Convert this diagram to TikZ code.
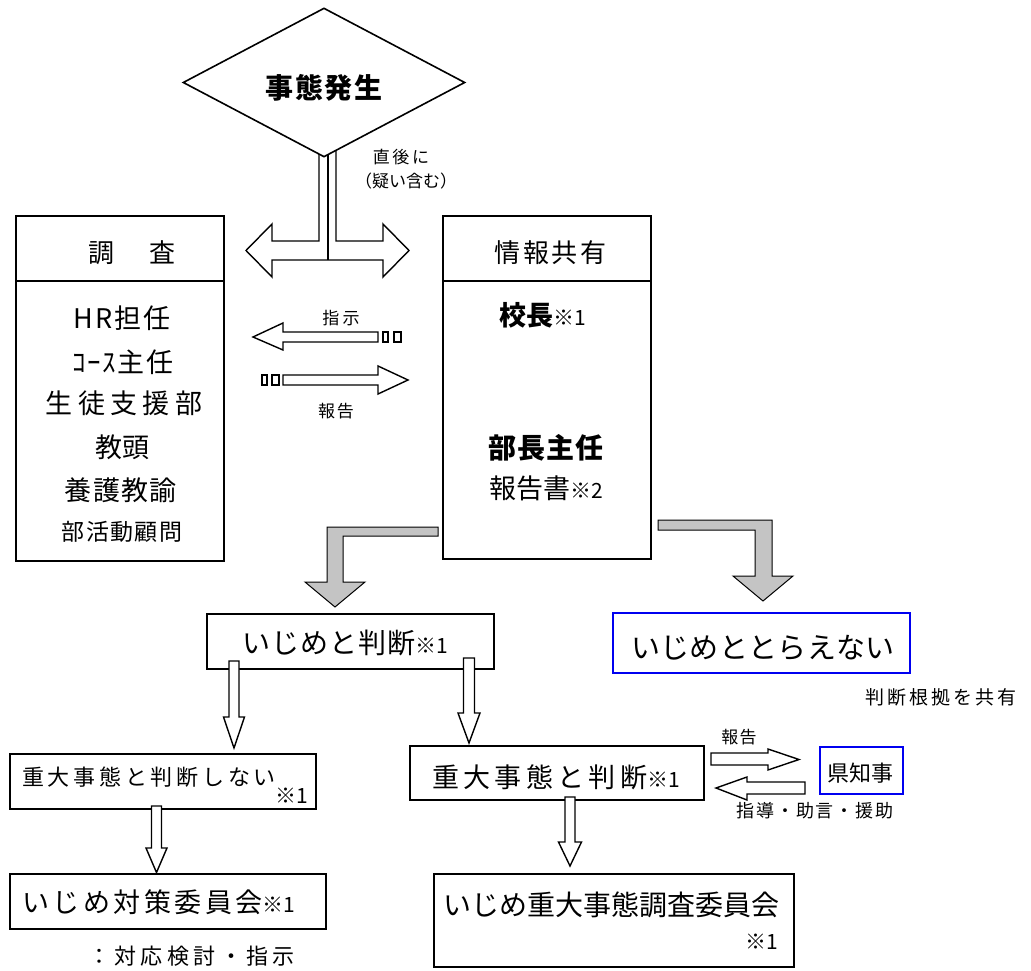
\documentclass[tikz,border=0pt]{standalone}
\usepackage{fontspec}
\setmainfont{Noto Sans CJK JP}
\usetikzlibrary{shapes.geometric}
\definecolor{arrowgray}{RGB}{196,196,196}
\definecolor{boxblue}{RGB}{0,0,240}
\newcommand\fs[1]{\fontsize{#1}{#1}\selectfont}
\newcommand\ls[1]{\addfontfeatures{LetterSpace=#1}}
% down block arrow: x, shaft half width, top, head base, head half width, tip
\newcommand\dnarrow[6]{\draw[blk] ({#1-#2},#3) -- ({#1-#2},#4) -- ({#1-#5},#4) -- (#1,#6) -- ({#1+#5},#4) -- ({#1+#2},#4) -- ({#1+#2},#3) -- cycle;}
\begin{document}
\begin{tikzpicture}[x=1pt,y=-1pt,
  bx/.style={draw, line width=2.2pt, inner sep=0pt, anchor=north west},
  bluebx/.style={draw=boxblue, line width=2pt, inner sep=0pt, anchor=north west},
  blk/.style={draw, line width=1.4pt, fill=white, line join=miter},
  grayarrow/.style={draw, line width=1pt, fill=arrowgray},
  t/.style={inner sep=0pt, anchor=base},
  tl/.style={inner sep=0pt, anchor=base west}]
\fill[white] (0,0) rectangle (1031,971);
\useasboundingbox (0,0) rectangle (1031,971);

% stem and double arrow below the diamond
\draw[blk] (319,140) -- (319,241) -- (272,241) -- (272,224) -- (246,250.5) -- (272,277) -- (272,260) -- (383,260) -- (383,277) -- (409,250.5) -- (383,224) -- (383,241) -- (336,241) -- (336,140);
\draw[line width=1.4pt] (328,140) -- (328,260);

% diamond
\node[draw, line width=1.6pt, fill=white, diamond, minimum width=282pt, minimum height=149pt, inner sep=0pt] (ev) at (324,82.5) {};
\node[t] (evt) at (324,98.6) {\bfseries\fs{28}\ls{6}事態発生};
\node[t] (imm1) at (401,163.5) {\fs{17}\ls{15}直後に};
\node[t] (imm2) at (406,187.5) {\fs{17}（疑い含む）};

% left box
\node[bx, minimum width=208pt, minimum height=345pt] (chosa) at (15,215) {};
\draw[line width=2pt] (15,281) -- (223,281);
\node[t] (chosat) at (132,262.9) {\fs{26}\ls{18}調　査};
\node[t] (l1) at (122,328.3) {\fs{27}\ls{7}HR担任};
\node[t] (l2) at (123,372.3) {\fs{27}\ls{6}ｺｰｽ主任};
\node[t] (l3) at (124,413.3) {\fs{27}\ls{20}生徒支援部};
\node[t] (l4) at (122,457.3) {\fs{27}教頭};
\node[t] (l5) at (121,500.3) {\fs{27}\ls{5}養護教諭};
\node[t] (l6) at (122,540.7) {\fs{23}\ls{6}部活動顧問};

% right box
\node[bx, minimum width=208pt, minimum height=343pt] (joho) at (442,215) {};
\draw[line width=2pt] (442,281) -- (650,281);
\node[t] (johot) at (550.5,262.9) {\fs{26}\ls{10}情報共有};
\node[t] (r1) at (543,325.3) {{\bfseries\fs{27}校長}{\fs{21}※1}};
\node[t] (r2) at (546,458.6) {\bfseries\fs{28}\ls{3}部長主任};
\node[t] (r3) at (546,498.3) {{\fs{27}報告書}{\fs{21}※2}};

% middle arrows
\draw[blk] (378,332) -- (283,332) -- (283,323) -- (253,337) -- (283,350) -- (283,342) -- (378,342) -- cycle;
\draw[line width=1.4pt] (383,332) rectangle (388,342) (394,332) rectangle (401,342);
\draw[blk] (283,375) -- (378,375) -- (378,366) -- (408,380) -- (378,394) -- (378,385) -- (283,385) -- cycle;
\draw[line width=1.4pt] (262,375) rectangle (267,385) (272,375) rectangle (279,385);
\node[t] (shiji) at (341,324.5) {\fs{17}\ls{20}指示};
\node[t] (hokoku) at (336,417.5) {\fs{17}\ls{10}報告};

% gray bent arrows
\draw[grayarrow] (438,527) -- (327,527) -- (327,582) -- (305,582) -- (335,607) -- (365,582) -- (343,582) -- (343,536) -- (438,536) -- cycle;
\draw[grayarrow] (658,520) -- (772,520) -- (772,576) -- (793,576) -- (763,601) -- (733,576) -- (755,576) -- (755,530) -- (658,530) -- cycle;

% ijime to handan
\node[bx, minimum width=287pt, minimum height=55pt] (ijime) at (206,613) {};
\node[tl] (ijimet) at (242,653.6) {{\fs{28}\ls{4}いじめと判断}{\fs{21}※1}};

% not ijime
\node[bluebx, minimum width=297pt, minimum height=60pt] (notij) at (612,612) {};
\node[t] (notijt) at (763,658) {\fs{29}\ls{1}いじめととらえない};
\node[t] (konkyo) at (941,704.2) {\fs{19}\ls{16}判断根拠を共有};

% down arrows from ijime
\dnarrow{234}{5}{661}{717}{10.5}{748}
\dnarrow{469}{5.5}{658}{713}{11}{743}

% not serious
\node[bx, minimum width=306pt, minimum height=55pt] (notser) at (9,753) {};
\node[tl] (notsert) at (22,785.4) {{\fs{22}\ls{17}重大事態と判断しない}\raisebox{-18pt}{\fs{21}※1}};
\dnarrow{156.5}{5}{806}{848}{10.5}{872.5}

% committee
\node[bx, minimum width=316pt, minimum height=55pt] (taisaku) at (9,873) {};
\node[tl] (taisakut) at (22,912.3) {{\fs{27}\ls{13}いじめ対策委員会}{\fs{21}※1}};
\node[tl] (kento) at (88,964.7) {\fs{22}\ls{20}：対応検討・指示};

% serious
\node[bx, minimum width=294pt, minimum height=54pt] (ser) at (409,745) {};
\node[tl] (sert) at (432,787.3) {{\fs{27}\ls{16}重大事態と判断}{\fs{21}※1}};
\dnarrow{570}{5}{797}{842}{11.5}{866}

% governor
\node[bluebx, minimum width=83pt, minimum height=47pt] (gov) at (819,746) {};
\node[t] (govt) at (860,781.7) {\fs{22}県知事};
\draw[blk] (711,753) -- (768,753) -- (768,749) -- (799,759.5) -- (768,770) -- (768,765) -- (711,765) -- cycle;
\draw[blk] (805,782) -- (747,782) -- (747,777) -- (716,788) -- (747,800) -- (747,794) -- (805,794) -- cycle;
\node[t] (hokoku2) at (739,743.5) {\fs{17}\ls{8}報告};
\node[t] (shido) at (815,817.8) {\fs{18}\ls{10}指導・助言・援助};

% investigation committee
\node[bx, minimum width=360pt, minimum height=93pt] (chosai) at (433,873) {};
\node[t] (chosait) at (611,915.6) {\fs{28}いじめ重大事態調査委員会};
\node[t] (chosain) at (762,949.2) {\fs{21}※1};
\end{tikzpicture}
\end{document}
